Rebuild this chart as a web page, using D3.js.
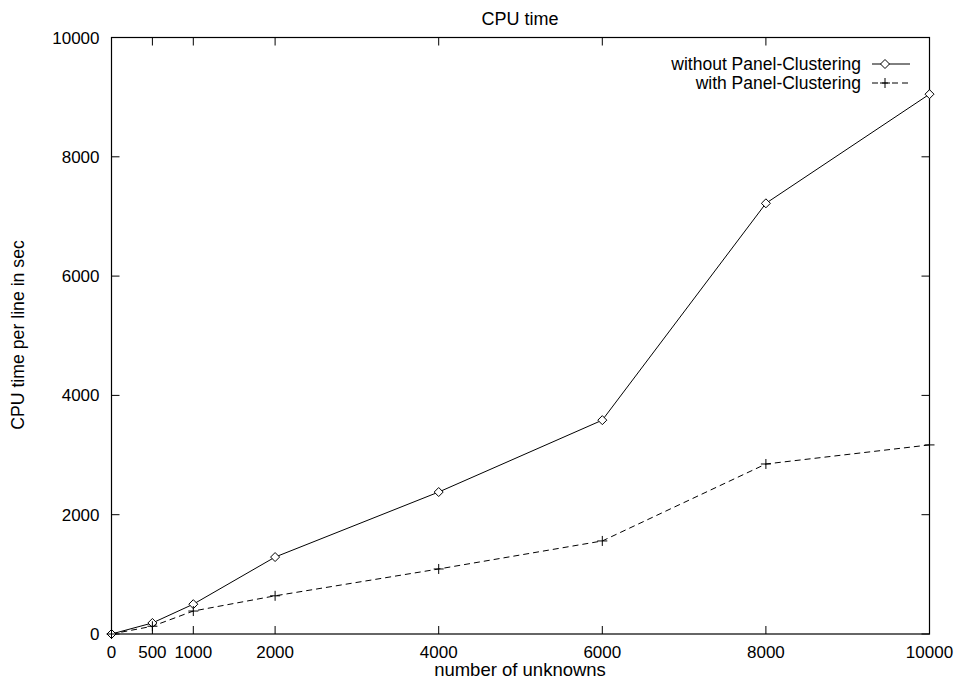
<!DOCTYPE html>
<html><head><meta charset="utf-8">
<script src="https://cdn.jsdelivr.net/npm/d3@7"></script>
<style>body{margin:0;background:#fff}text{font-family:"Liberation Sans",Arial,sans-serif}</style>
</head><body>
<script>
const xValues = [0, 500, 1000, 2000, 4000, 6000, 8000, 10000];
const withoutPC = [0, 185, 500, 1290, 2380, 3585, 7220, 9050];
const withPC = [0, 130, 385, 640, 1090, 1560, 2850, 3170];
const xTicks = [0, 500, 1000, 2000, 4000, 6000, 8000, 10000];
const yTicks = [0, 2000, 4000, 6000, 8000, 10000];
const seriesNames = ["without Panel-Clustering", "with Panel-Clustering"];

const W = 957, H = 681;
const L = 111.5, R = 929.5, T = 37.5, B = 634;
const svg = d3.select("body").append("svg").attr("width", W).attr("height", H);
const x = d3.scaleLinear().domain([0, 10000]).range([L, R]);
const y = d3.scaleLinear().domain([0, 10000]).range([B, T]);
const fs = 17;

// frame
svg.append("rect").attr("x", L).attr("y", T).attr("width", R - L).attr("height", B - T)
  .attr("fill", "none").attr("stroke", "#000").attr("stroke-width", 1.2);

// ticks (inward, mirrored)
const tl = 8;
const g = svg.append("g").attr("stroke", "#000").attr("stroke-width", 1);
xTicks.forEach(v => {
  g.append("line").attr("x1", x(v)).attr("x2", x(v)).attr("y1", B).attr("y2", B - tl);
  g.append("line").attr("x1", x(v)).attr("x2", x(v)).attr("y1", T).attr("y2", T + tl);
});
yTicks.forEach(v => {
  g.append("line").attr("y1", y(v)).attr("y2", y(v)).attr("x1", L).attr("x2", L + tl);
  g.append("line").attr("y1", y(v)).attr("y2", y(v)).attr("x1", R).attr("x2", R - tl);
});
svg.append("g").selectAll("text").data(xTicks).join("text")
  .attr("x", d => x(d)).attr("y", B + 24).attr("text-anchor", "middle")
  .attr("font-size", fs).text(d => d);
svg.append("g").selectAll("text").data(yTicks).join("text")
  .attr("x", L - 12).attr("y", d => y(d) + 6).attr("text-anchor", "end")
  .attr("font-size", fs).text(d => d);

// titles
svg.append("text").attr("x", 520).attr("y", 25).attr("text-anchor", "middle")
  .attr("font-size", 18).text("CPU time");
svg.append("text").attr("x", 520).attr("y", 676).attr("text-anchor", "middle")
  .attr("font-size", 18.5).text("number of unknowns");
svg.append("text").attr("transform", "translate(24,335) rotate(-90)")
  .attr("text-anchor", "middle").attr("font-size", 17.7).text("CPU time per line in sec");

const line = d3.line().x(d => x(d[0])).y(d => y(d[1]));
const d1 = xValues.map((v, i) => [v, withoutPC[i]]);
const d2 = xValues.map((v, i) => [v, withPC[i]]);

svg.append("path").attr("d", line(d1)).attr("fill", "none").attr("stroke", "#000").attr("stroke-width", 1);
svg.append("path").attr("d", line(d2)).attr("fill", "none").attr("stroke", "#000").attr("stroke-width", 1)
  .attr("stroke-dasharray", "6,4");

const diamond = (cx, cy, r) => `M${cx},${cy - r}L${cx + r},${cy}L${cx},${cy + r}L${cx - r},${cy}Z`;
const plus = (cx, cy, r) => `M${cx - r},${cy}H${cx + r}M${cx},${cy - r}V${cy + r}`;

svg.append("g").selectAll("path").data(d1).join("path")
  .attr("d", d => diamond(x(d[0]), y(d[1]), 4.5)).attr("fill", "#fff").attr("stroke", "#000").attr("stroke-width", 1);
svg.append("g").selectAll("path").data(d2).join("path")
  .attr("d", d => plus(x(d[0]), y(d[1]), 5)).attr("fill", "none").attr("stroke", "#000").attr("stroke-width", 1);

// legend
const ly = [64, 83];
seriesNames.forEach((n, i) => {
  svg.append("text").attr("x", 861).attr("y", ly[i] + 6).attr("text-anchor", "end")
    .attr("font-size", 17.5).text(n);
  svg.append("line").attr("x1", 872).attr("x2", 910).attr("y1", ly[i]).attr("y2", ly[i])
    .attr("stroke", "#000").attr("stroke-width", 1).attr("stroke-dasharray", i ? "6,4" : null);
  if (i === 0) svg.append("path").attr("d", diamond(885, ly[i], 4.5)).attr("fill", "#fff").attr("stroke", "#000");
  else svg.append("path").attr("d", plus(885, ly[i], 5)).attr("fill", "none").attr("stroke", "#000");
});
</script>
</body></html>
